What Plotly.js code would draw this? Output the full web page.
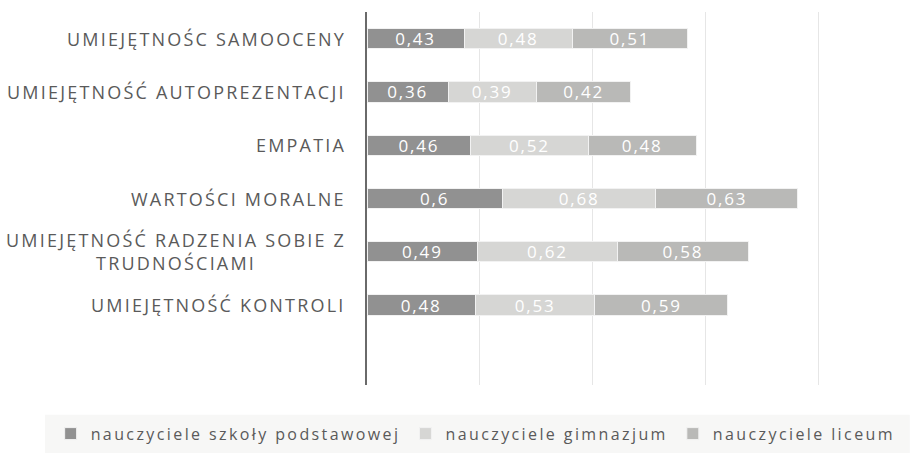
<!DOCTYPE html>
<html><head><meta charset="utf-8">
<script src="https://cdn.plot.ly/plotly-3.0.1.min.js"></script>
<style>
html,body{margin:0;padding:0;background:#fff}#chart{width:922px;height:453px}
.annotation-text{letter-spacing:2.2px}
.legendtext{letter-spacing:2.4px}
.bartext{letter-spacing:1.8px}
</style>
</head><body><div id="chart"></div>
<script>
// categories, top to bottom
const categories = [
  "UMIEJĘTNOŚC SAMOOCENY",
  "UMIEJĘTNOŚĆ AUTOPREZENTACJI",
  "EMPATIA",
  "WARTOŚCI MORALNE",
  "UMIEJĘTNOŚĆ RADZENIA SOBIE Z<br>TRUDNOŚCIAMI",
  "UMIEJĘTNOŚĆ KONTROLI"
];
const seriesNames = ["nauczyciele szkoły podstawowej", "nauczyciele gimnazjum", "nauczyciele liceum"];
const podstawowa = [0.43, 0.36, 0.46, 0.60, 0.49, 0.48];
const gimnazjum  = [0.48, 0.39, 0.52, 0.68, 0.62, 0.53];
const liceum     = [0.51, 0.42, 0.48, 0.63, 0.58, 0.59];
const colors = ["#919191", "#d6d6d4", "#b9b9b7"];

const catIds = categories.map((c, i) => "c" + i);
const fmt = v => String(v).replace(".", ",");
const seriesVals = [podstawowa, gimnazjum, liceum];
const traces = seriesVals.map((vals, k) => ({
  type: "bar", orientation: "h",
  name: seriesNames[k],
  x: vals, y: catIds,
  text: vals.map(fmt),
  textposition: "inside", insidetextanchor: "middle", constraintext: "none",
  textfont: {color: "#ffffff", size: 17, family: "Open Sans, sans-serif"},
  marker: {color: colors[k], line: {color: "#f2f2f2", width: 1}},
  hoverinfo: "skip"
}));

const annotations = categories.map((c, i) => ({
  xref: "paper", yref: "y", x: -0.035, y: catIds[i],
  xanchor: "right", yanchor: "middle", align: "center",
  text: c, showarrow: false,
  font: {family: "Open Sans, sans-serif", size: 18, color: "#5a5a5a"}
}));

const layout = {
  width: 922, height: 453,
  margin: {l: 367, r: 0, t: 12, b: 68},
  paper_bgcolor: "#ffffff", plot_bgcolor: "#ffffff",
  barmode: "stack", bargap: 0.62,
  showlegend: true,
  xaxis: {range: [0, 2.46], dtick: 0.5, showticklabels: false, showgrid: true,
          gridcolor: "#e6e6e6", gridwidth: 1, zeroline: false, fixedrange: true},
  yaxis: {type: "category", categoryorder: "array", categoryarray: catIds.slice().reverse(),
          range: [-1.5, 5.5], showticklabels: false, showline: true, linecolor: "#6a6a6a",
          linewidth: 2, showgrid: false, ticks: "", fixedrange: true},
  legend: {orientation: "h", x: -0.57, y: -0.085,
           xanchor: "left", yanchor: "top", bgcolor: "rgba(0,0,0,0)",
           font: {family: "Open Sans, sans-serif", size: 16, color: "#5a5a5a"},
           traceorder: "normal", itemwidth: 30},
  shapes: [{type: "rect", xref: "paper", yref: "paper", x0: -0.58, x1: 0.978, y0: -0.182, y1: -0.08,
            fillcolor: "#f7f7f6", line: {width: 0}, layer: "below"}],
  annotations: annotations
};
Plotly.newPlot("chart", traces, layout, {displayModeBar: false, staticPlot: true});
</script></body></html>
